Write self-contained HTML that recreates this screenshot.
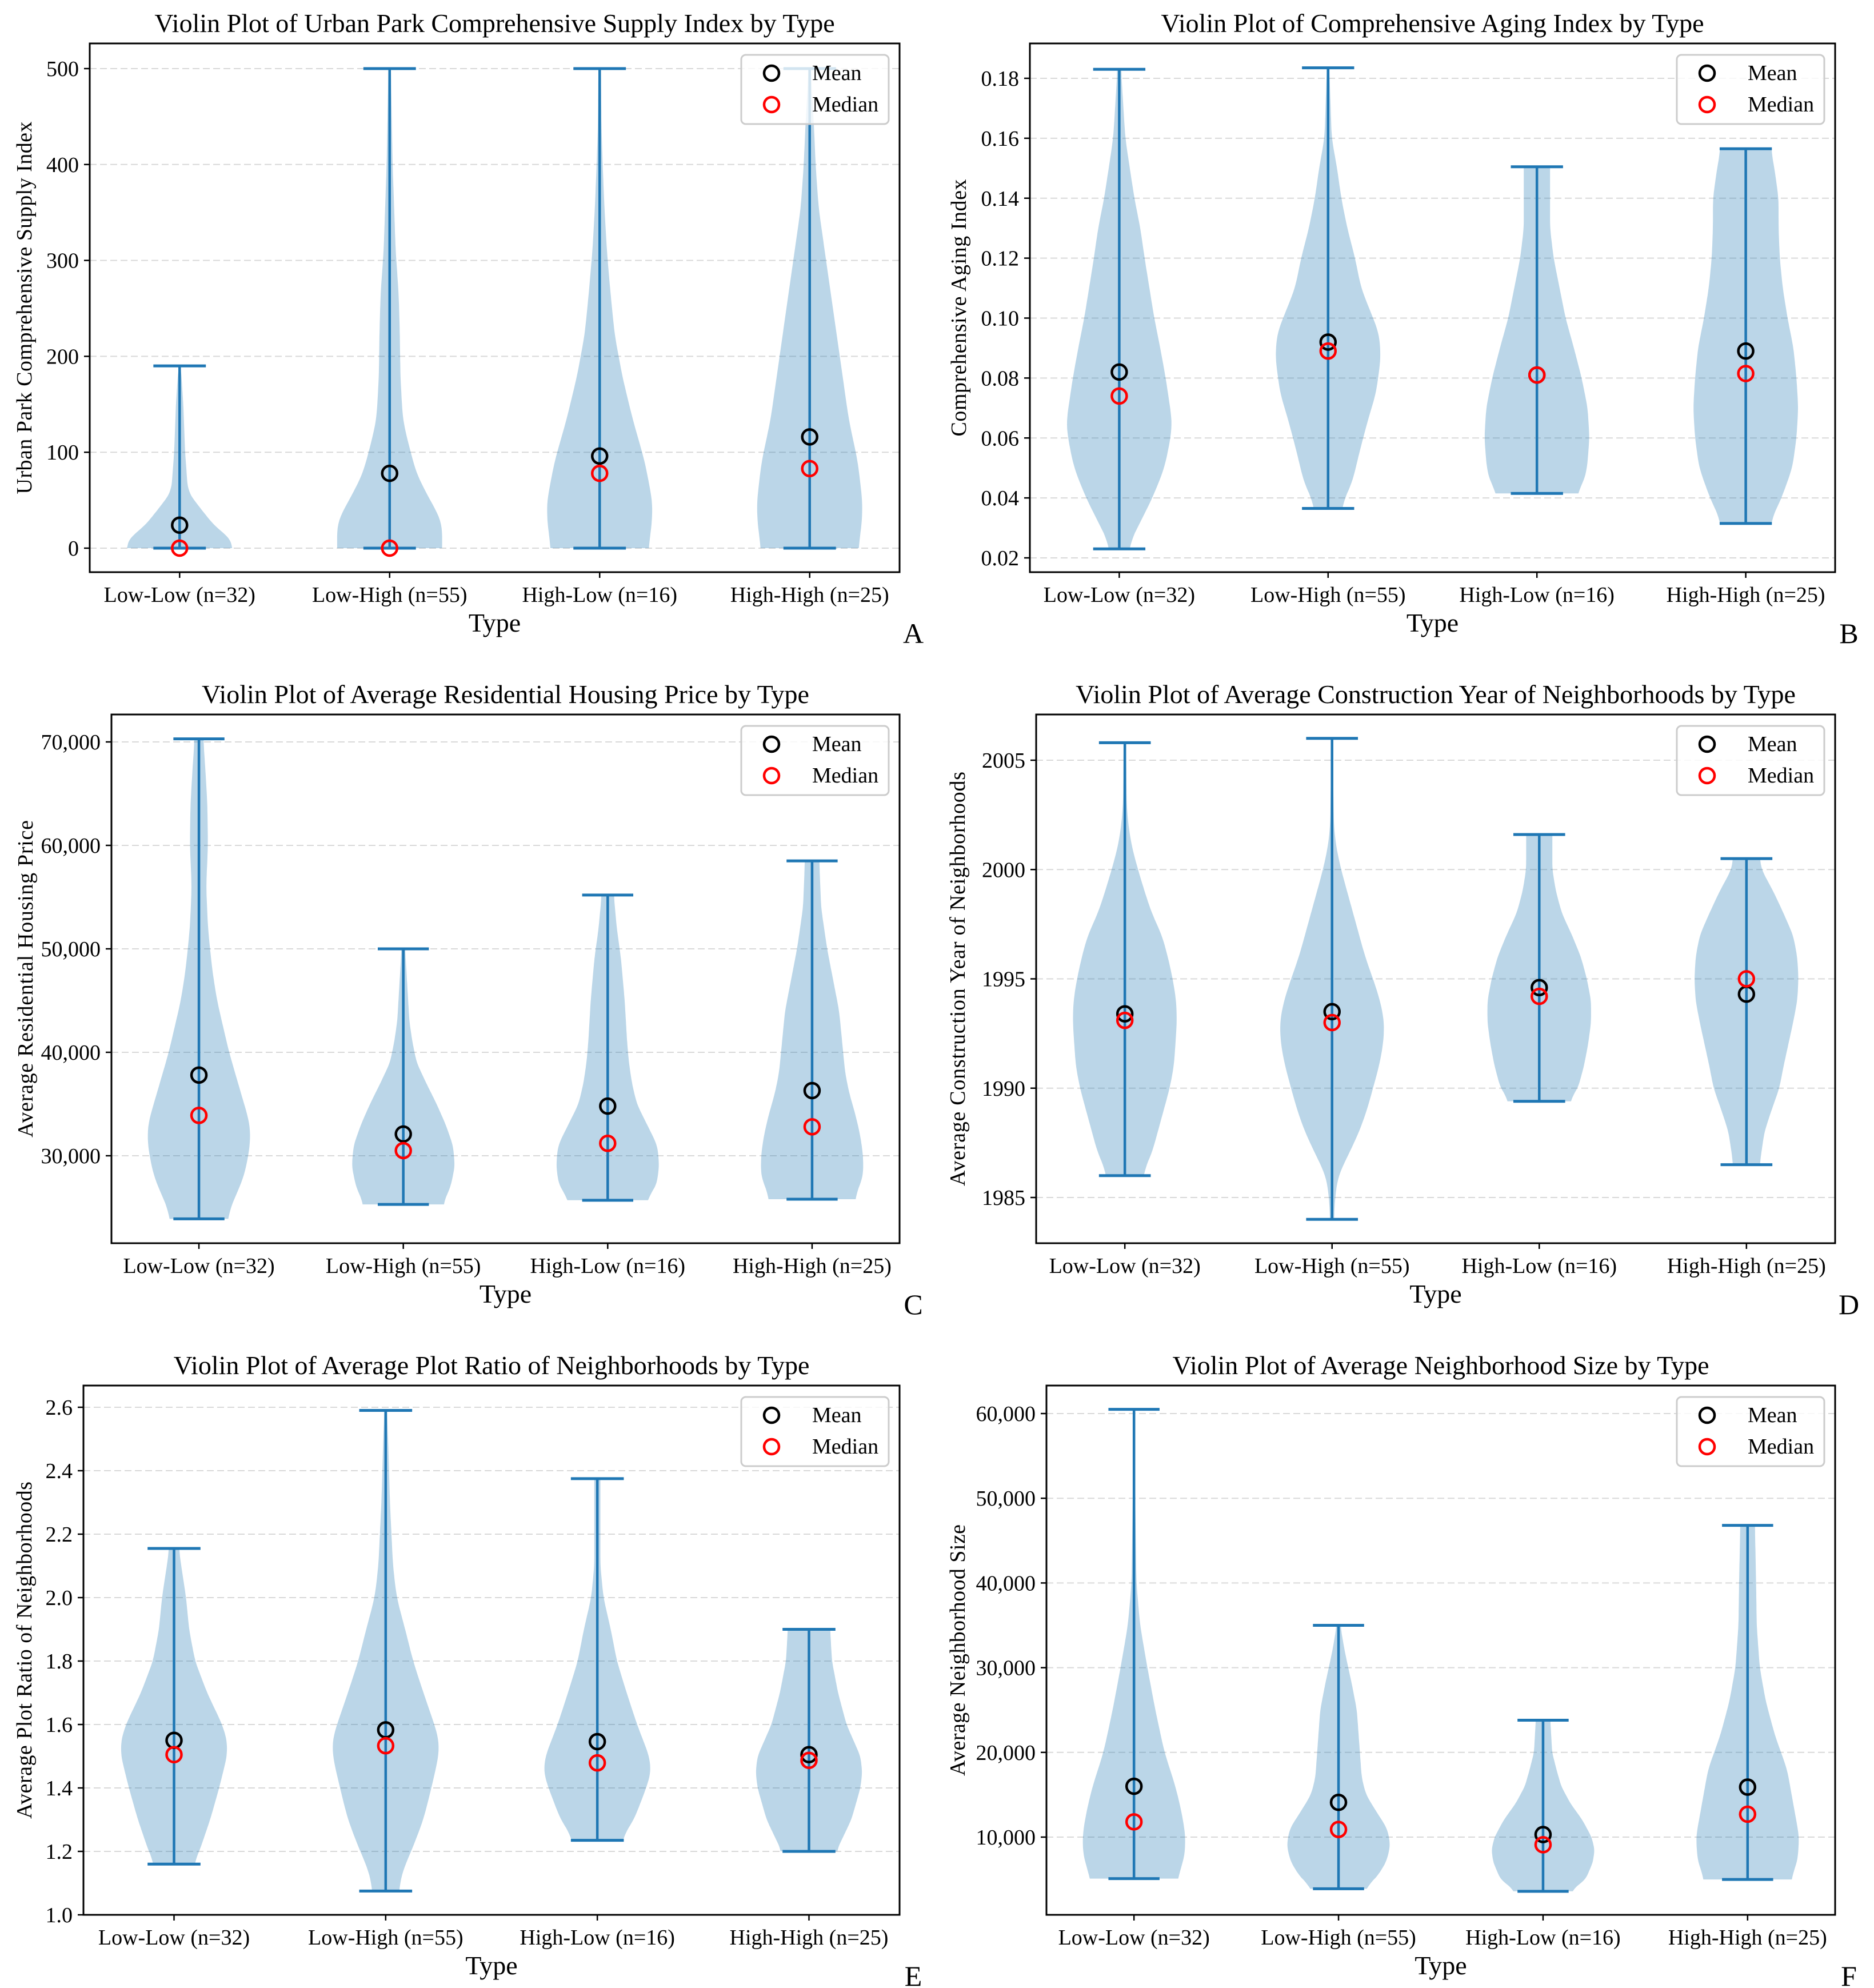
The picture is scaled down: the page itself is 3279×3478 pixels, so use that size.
<!DOCTYPE html>
<html><head><meta charset="utf-8">
<style>
html,body{margin:0;padding:0;background:#fff;}
svg{display:block;}
text{font-family:"Liberation Serif","Times New Roman",serif;fill:#000;}
</style></head>
<body>
<svg id="fig" xmlns="http://www.w3.org/2000/svg" width="3279" height="3478" viewBox="0 0 3279 3478"></svg>
<script>
// ---------- shared categories ----------
const categories = ["Low-Low (n=32)", "Low-High (n=55)", "High-Low (n=16)", "High-High (n=25)"];

// ---------- Panel A data ----------
const aMeans = [24, 78, 96, 116];
const aMedians = [0, 0, 78, 83];
const aMins = [0, 0, 0, 0];
const aMaxs = [190, 500, 500, 500];
const aTicks = [0, 100, 200, 300, 400, 500];
const aShapeLL = [[0,87],[10,82],[25,55],[40,36],[55,18],[65,13],[100,9],[150,6],[180,3],[190,1]];
const aShapeLH = [[0,87],[16,88],[30,86],[47,70],[77,45],[112,30],[134,22],[178,18],[222,17],[266,15],[310,10],[400,5],[500,2]];
const aShapeHL = [[0,80],[20,86],[47,88],[90,75],[134,55],[178,38],[222,25],[266,18],[310,12],[354,8],[400,5],[440,3],[500,2]];
const aShapeHH = [[0,80],[20,86],[47,88],[90,80],[134,65],[178,55],[222,45],[266,35],[310,25],[354,15],[398,10],[441,7],[485,3],[500,2]];

// ---------- Panel B data ----------
const bMeans = [0.082, 0.092, 0.081, 0.089];
const bMedians = [0.074, 0.089, 0.081, 0.0815];
const bMins = [0.023, 0.0365, 0.0415, 0.0315];
const bMaxs = [0.183, 0.1835, 0.1505, 0.1565];
const bTicks = [0.02, 0.04, 0.06, 0.08, 0.10, 0.12, 0.14, 0.16, 0.18];
const bShapeLL = [[0.023,13],[0.03,30],[0.04,55],[0.05,75],[0.06,85],[0.065,88],[0.08,77],[0.09,68],[0.10,58],[0.12,42],[0.13,35],[0.14,25],[0.16,10],[0.183,3]];
const bShapeLH = [[0.0365,20],[0.045,40],[0.055,52],[0.065,65],[0.075,80],[0.087,88],[0.095,85],[0.10,75],[0.11,55],[0.12,45],[0.13,32],[0.14,22],[0.15,15],[0.16,6],[0.1835,2]];
const bShapeHL = [[0.0415,65],[0.045,78],[0.05,84],[0.06,88],[0.07,85],[0.08,75],[0.09,62],[0.10,48],[0.11,38],[0.12,28],[0.13,22],[0.14,22],[0.1505,22]];
const bShapeHH = [[0.0315,40],[0.04,60],[0.05,78],[0.06,85],[0.07,88],[0.08,85],[0.09,80],[0.10,70],[0.11,62],[0.12,57],[0.13,55],[0.14,55],[0.15,48],[0.1565,42]];

// ---------- Panel C data ----------
const cMeans = [37800, 32100, 34800, 36300];
const cMedians = [33900, 30500, 31200, 32800];
const cMins = [23900, 25300, 25700, 25800];
const cMaxs = [70300, 50000, 55200, 58500];
const cTicks = [30000, 40000, 50000, 60000, 70000];
const cShapeLL = [[23900,45],[26000,60],[28000,75],[31000,85],[33000,85],[35000,75],[37000,65],[40000,50],[43000,38],[45000,30],[48000,22],[52000,15],[56000,12],[60000,15],[64000,14],[68000,10],[70300,7]];
const cShapeLH = [[25300,65],[27000,78],[29000,85],[31000,82],[33000,70],[35000,55],[37000,38],[39000,22],[41000,15],[43000,10],[46000,7],[50000,3]];
const cShapeHL = [[25700,62],[27000,80],[29000,85],[31000,82],[33000,65],[35000,48],[37000,40],[39000,35],[41000,32],[45000,28],[49000,22],[52000,15],[55200,10]];
const cShapeHH = [[25800,70],[28000,85],[30000,85],[32000,80],[34000,72],[36000,62],[38000,55],[41000,50],[44000,45],[47000,35],[50000,25],[54000,15],[58500,12]];

// ---------- Panel D data ----------
const dMeans = [1993.4, 1993.5, 1994.6, 1994.3];
const dMedians = [1993.1, 1993.0, 1994.2, 1995.0];
const dMins = [1986.0, 1984.0, 1989.4, 1986.5];
const dMaxs = [2005.8, 2006.0, 2001.6, 2000.5];
const dTicks = [1985, 1990, 1995, 2000, 2005];
const dShapeLL = [[1986,28],[1987,45],[1988,55],[1989,65],[1990,75],[1991,82],[1993,87],[1994,86],[1995,80],[1996,72],[1997,62],[1998,45],[1999,33],[2000,22],[2001,12],[2002,6],[2003,3],[2005.8,2]];
const dShapeLH = [[1984,3],[1985,5],[1986,10],[1987,28],[1988,45],[1989,58],[1990,68],[1991,78],[1992,85],[1993,87],[1994,80],[1995,68],[1996,55],[1997,45],[1998,35],[1999,25],[2000,15],[2001,7],[2002,3],[2006,1]];
const dShapeHL = [[1989.4,50],[1990,65],[1991,75],[1992,82],[1993,87],[1994,87],[1995,80],[1996,70],[1997,55],[1998,38],[1999,28],[2000,22],[2001.6,22]];
const dShapeHH = [[1986.5,22],[1988,30],[1989,42],[1990,55],[1991,62],[1992,70],[1993,78],[1994,85],[1995,87],[1996,85],[1997,78],[1998,62],[1999,45],[2000,25],[2000.5,22]];

// ---------- Panel E data ----------
const eMeans = [1.55, 1.583, 1.546, 1.505];
const eMedians = [1.505, 1.533, 1.479, 1.487];
const eMins = [1.16, 1.075, 1.235, 1.20];
const eMaxs = [2.155, 2.59, 2.375, 1.90];
const eTicks = [1.0, 1.2, 1.4, 1.6, 1.8, 2.0, 2.2, 2.4, 2.6];
const eShapeLL = [[1.16,32],[1.2,42],[1.3,60],[1.4,75],[1.5,88],[1.55,88],[1.6,80],[1.7,55],[1.8,35],[1.9,25],[2.0,20],[2.1,12],[2.155,8]];
const eShapeLH = [[1.075,20],[1.15,30],[1.2,42],[1.3,62],[1.4,75],[1.5,87],[1.55,88],[1.6,80],[1.7,62],[1.8,45],[1.9,32],[2.0,18],[2.1,12],[2.3,7],[2.5,4],[2.59,2]];
const eShapeHL = [[1.235,38],[1.3,60],[1.4,80],[1.45,88],[1.5,85],[1.6,65],[1.7,48],[1.8,32],[1.9,22],[2.0,10],[2.1,5],[2.3,5],[2.375,5]];
const eShapeHH = [[1.2,45],[1.3,70],[1.4,85],[1.45,88],[1.5,85],[1.6,62],[1.7,48],[1.8,38],[1.9,35]];

// ---------- Panel F data ----------
const fMeans = [16000, 14100, 10300, 15900];
const fMedians = [11800, 10900, 9100, 12700];
const fMins = [5100, 3900, 3600, 5000];
const fMaxs = [60500, 35000, 23800, 46800];
const fTicks = [10000, 20000, 30000, 40000, 50000, 60000];
const fShapeLL = [[5100,68],[7000,82],[10000,85],[13000,78],[16000,68],[20000,50],[25000,35],[30000,22],[35000,10],[40000,4],[50000,2],[60500,1]];
const fShapeLH = [[3900,40],[5000,60],[7000,78],[9000,85],[11000,80],[13000,62],[15000,45],[17000,38],[20000,35],[25000,30],[28000,22],[32000,10],[35000,3]];
const fShapeHL = [[3600,45],[5000,70],[7000,82],[8500,85],[10000,80],[12000,65],[14000,45],[16000,30],[18000,22],[20000,15],[23800,12]];
const fShapeHH = [[5000,70],[7000,82],[10000,85],[14000,75],[18000,65],[22000,45],[26000,30],[30000,20],[35000,15],[40000,14],[46800,12]];

const NS = "http://www.w3.org/2000/svg";
const svg = document.getElementById("fig");
function el(tag, attrs, parent){const e=document.createElementNS(NS,tag);for(const k in attrs)e.setAttribute(k,attrs[k]);(parent||svg).appendChild(e);return e;}
const BLUE="#1f77b4";
const fmtComma = v => v.toLocaleString("en-US");

const panels = [
 {id:"a",L:157,R:1574,T:76,B:1001,v1:0,p1:959,v2:500,p2:120,letter:"A",ylx:42,
  title:"Violin Plot of Urban Park Comprehensive Supply Index by Type",ylabel:"Urban Park Comprehensive Supply Index",ylen:652,
  means:aMeans,medians:aMedians,mins:aMins,maxs:aMaxs,ticks:aTicks,fmt:v=>String(v),shapes:[aShapeLL,aShapeLH,aShapeHL,aShapeHH]},
 {id:"b",L:1802,R:3211,T:76,B:1001,v1:0.02,p1:976,v2:0.18,p2:137,letter:"B",ylx:1677,
  title:"Violin Plot of Comprehensive Aging Index by Type",ylabel:"Comprehensive Aging Index",ylen:450,
  means:bMeans,medians:bMedians,mins:bMins,maxs:bMaxs,ticks:bTicks,fmt:v=>v.toFixed(2),shapes:[bShapeLL,bShapeLH,bShapeHL,bShapeHH]},
 {id:"c",L:195,R:1574,T:1250,B:2175,v1:30000,p1:2022,v2:70000,p2:1298,letter:"C",ylx:44,
  title:"Violin Plot of Average Residential Housing Price by Type",ylabel:"Average Residential Housing Price",ylen:555,
  means:cMeans,medians:cMedians,mins:cMins,maxs:cMaxs,ticks:cTicks,fmt:fmtComma,shapes:[cShapeLL,cShapeLH,cShapeHL,cShapeHH]},
 {id:"d",L:1813,R:3211,T:1250,B:2175,v1:1985,p1:2095,v2:2005,p2:1330,letter:"D",ylx:1675,
  title:"Violin Plot of Average Construction Year of Neighborhoods by Type",ylabel:"Average Construction Year of Neighborhoods",ylen:725,
  means:dMeans,medians:dMedians,mins:dMins,maxs:dMaxs,ticks:dTicks,fmt:v=>String(v),shapes:[dShapeLL,dShapeLH,dShapeHL,dShapeHH]},
 {id:"e",L:146,R:1574,T:2424,B:3350,v1:1.0,p1:3350,v2:2.6,p2:2462,letter:"E",ylx:42,
  title:"Violin Plot of Average Plot Ratio of Neighborhoods by Type",ylabel:"Average Plot Ratio of Neighborhoods",ylen:590,
  means:eMeans,medians:eMedians,mins:eMins,maxs:eMaxs,ticks:eTicks,fmt:v=>v.toFixed(1),shapes:[eShapeLL,eShapeLH,eShapeHL,eShapeHH]},
 {id:"f",L:1831,R:3211,T:2424,B:3350,v1:10000,p1:3214,v2:60000,p2:2473,letter:"F",ylx:1675,
  title:"Violin Plot of Average Neighborhood Size by Type",ylabel:"Average Neighborhood Size",ylen:440,
  means:fMeans,medians:fMedians,mins:fMins,maxs:fMaxs,ticks:fTicks,fmt:fmtComma,shapes:[fShapeLL,fShapeLH,fShapeHL,fShapeHH]}
];

// resample a shape onto a fine grid (linear interp) and lightly smooth
function resample(s){
  const lo=s[0][0], hi=s[s.length-1][0], N=120;
  const raw=[];
  for(let k=0;k<=N;k++){
    const v=lo+(hi-lo)*k/N;
    let j=0; while(j<s.length-2 && s[j+1][0]<v) j++;
    const a=s[j], b=s[j+1];
    const t=(v-a[0])/(b[0]-a[0]||1);
    raw.push([v,a[1]+(b[1]-a[1])*Math.max(0,Math.min(1,t))]);
  }
  const h=4, out=[];
  for(let k=0;k<=N;k++){
    let sum=0,cnt=0;
    for(let m=-h;m<=h;m++){const q=k+m; if(q>=0&&q<=N){const w=h+1-Math.abs(m);sum+=raw[q][1]*w;cnt+=w;}}
    out.push([raw[k][0],sum/cnt]);
  }
  return out;
}

panels.forEach(p=>{
  const g=el("g",{});
  
  
  const W=p.R-p.L;
  const x=v=>p.L+(v-0.572)/3.856*W;
  const y=v=>p.p1+(v-p.v1)*(p.p2-p.p1)/(p.v2-p.v1);
  const unit=W/3.856;
  const cx=(p.L+p.R)/2;
  const t=el("text",{x:cx,y:p.T-20,"text-anchor":"middle","font-size":46},g);
  t.textContent=p.title;
  
  
  p.ticks.forEach(v=>{
    const gy=y(v);
    const gl=el("line",{x1:p.L,x2:p.R,y1:gy,y2:gy,stroke:"#d9d9d9","stroke-width":2,"stroke-dasharray":"12,6"},g);
    
    
  });
  p.shapes.forEach((s,i)=>{
    const c=x(i+1);
    const rs=resample(s);
    const mx=Math.max(...rs.map(q=>q[1]));
    let d="";
    rs.forEach((q,k)=>{d+=(k?"L":"M")+(c+q[1]/mx*0.25*unit).toFixed(1)+","+y(q[0]).toFixed(1);});
    for(let k=rs.length-1;k>=0;k--){const q=rs[k];d+="L"+(c-q[1]/mx*0.25*unit).toFixed(1)+","+y(q[0]).toFixed(1);}
    d+="Z";
    const vp=el("path",{d:d,fill:BLUE,"fill-opacity":0.3,stroke:"none"},g);
    
    
  });
  p.means.forEach((m,i)=>{
    const c=x(i+1);
    const vl=el("line",{x1:c,x2:c,y1:y(p.mins[i]),y2:y(p.maxs[i]),stroke:BLUE,"stroke-width":4.5},g);
    
    
    [p.mins[i],p.maxs[i]].forEach(v=>{
      const cl=el("line",{x1:c-0.125*unit,x2:c+0.125*unit,y1:y(v),y2:y(v),stroke:BLUE,"stroke-width":5},g);
      
      
    });
  });
  p.means.forEach((m,i)=>{
    const c=x(i+1);
    const mc=el("circle",{cx:c,cy:y(m),r:13,fill:"none",stroke:"#000","stroke-width":4.5},g);
    
    
    const md=el("circle",{cx:c,cy:y(p.medians[i]),r:13,fill:"none",stroke:"#ff0000","stroke-width":4.5},g);
    
    
  });
  const fr=el("rect",{x:p.L,y:p.T,width:W,height:p.B-p.T,fill:"none",stroke:"#000","stroke-width":3},g);
  
  
  p.ticks.forEach(v=>{
    const ty=y(v);
    el("line",{x1:p.L-10,x2:p.L,y1:ty,y2:ty,stroke:"#000","stroke-width":2.5},g);
    const tl=el("text",{x:p.L-19,y:ty+13,"text-anchor":"end","font-size":38},g);
    tl.textContent=p.fmt(v);
    
    
  });
  categories.forEach((cat,i)=>{
    const c=x(i+1);
    el("line",{x1:c,x2:c,y1:p.B,y2:p.B+10,stroke:"#000","stroke-width":2.5},g);
    const xl=el("text",{x:c,y:p.B+52,"text-anchor":"middle","font-size":38},g);
    xl.textContent=cat;
    
    
  });
  const xt=el("text",{x:cx,y:p.B+104,"text-anchor":"middle","font-size":46},g);
  xt.textContent="Type";
  
  
  const ymid=(p.T+p.B)/2;
  const yt=el("text",{x:0,y:0,"text-anchor":"middle","font-size":38,textLength:p.ylen,lengthAdjust:"spacing",transform:"translate("+(p.ylx+13)+","+ymid+") rotate(-90)"},g);
  yt.textContent=p.ylabel;
  
  
  const lt=el("text",{x:p.R+24,y:p.B+124,"text-anchor":"middle","font-size":50},g);
  lt.textContent=p.letter;
  
  
  const lg=el("g",{},g);
  
  
  el("rect",{x:p.R-277,y:p.T+20,width:258,height:121,rx:8,fill:"#fff","fill-opacity":0.8,stroke:"#cccccc","stroke-width":3},lg);
  const e1=el("circle",{cx:p.R-224,cy:p.T+52,r:13,fill:"none",stroke:"#000","stroke-width":4.5},lg);
  
  
  const e2=el("circle",{cx:p.R-224,cy:p.T+107,r:13,fill:"none",stroke:"#ff0000","stroke-width":4.5},lg);
  
  
  const l1=el("text",{x:p.R-153,y:p.T+64,"font-size":38},lg);
  l1.textContent="Mean";
  
  
  const l2=el("text",{x:p.R-153,y:p.T+119,"font-size":38},lg);
  l2.textContent="Median";
  
  
});
</script>
</body></html>
